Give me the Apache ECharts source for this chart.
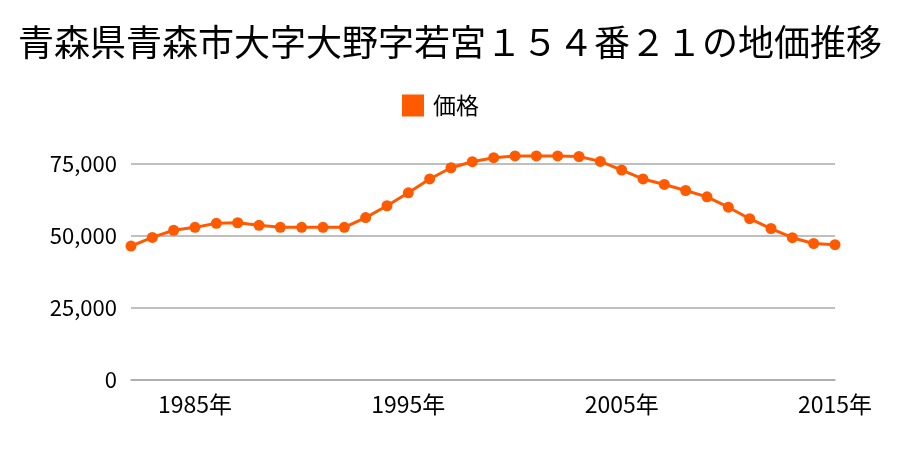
<!DOCTYPE html>
<html><head><meta charset="utf-8">
<script src="https://cdn.jsdelivr.net/npm/echarts@6/dist/echarts.min.js"></script>
<style>html,body{margin:0;padding:0;background:#fff}#c{width:900px;height:450px}</style>
</head><body><div id="c"></div>
<script>
const years = [1982,1983,1984,1985,1986,1987,1988,1989,1990,1991,1992,1993,1994,1995,1996,1997,1998,1999,2000,2001,2002,2003,2004,2005,2006,2007,2008,2009,2010,2011,2012,2013,2014,2015];
const prices = [46500,49500,52000,53000,54400,54600,53700,53000,53000,53000,53000,56400,60500,65000,69800,73700,75800,77200,77800,77800,77800,77600,75900,72900,69800,67900,65800,63600,60000,56000,52600,49400,47400,47000];
const xLabels = ['1985','1995','2005','2015'];
const yTicks = [0,25000,50000,75000];
const titleText = '青森県青森市大字大野字若宮１５４番２１の地価推移';
const seriesName = '価格';
const font = '"Noto Sans CJK JP", "Noto Sans", sans-serif';
const chart = echarts.init(document.getElementById('c'));
chart.setOption({
  animation:false,
  title:{text:titleText,left:'center',top:19,textStyle:{fontFamily:font,fontSize:36,fontWeight:'normal',color:'#000'}},
  legend:{data:[seriesName],top:89,left:397,icon:'rect',itemWidth:22,itemHeight:22,itemGap:8,
    textStyle:{fontFamily:font,fontSize:23,color:'#000',padding:[0,0,0,4]}},
  grid:{left:131,right:65,top:164,bottom:70},
  xAxis:{type:'category',data:years.map(String),boundaryGap:false,
    axisLine:{show:true,lineStyle:{color:'#aaa',width:1.5}},axisTick:{show:false},
    axisLabel:{interval:0,margin:13,fontFamily:font,fontSize:23,color:'#000',
      formatter:v=>xLabels.includes(v)?v+'年':''},splitLine:{show:false}},
  yAxis:{type:'value',min:yTicks[0],max:yTicks[yTicks.length-1],interval:25000,
    axisLine:{show:false},axisTick:{show:false},
    axisLabel:{margin:14,fontFamily:font,fontSize:22,color:'#000',formatter:v=>v.toLocaleString('en-US')},
    splitLine:{lineStyle:{color:'#aaa',width:1.5}}},
  series:[{name:seriesName,type:'line',data:prices,clip:false,symbol:'circle',symbolSize:11,
    lineStyle:{color:'#ff5a00',width:3},itemStyle:{color:'#ff5a00'}}]
});
</script></body></html>
